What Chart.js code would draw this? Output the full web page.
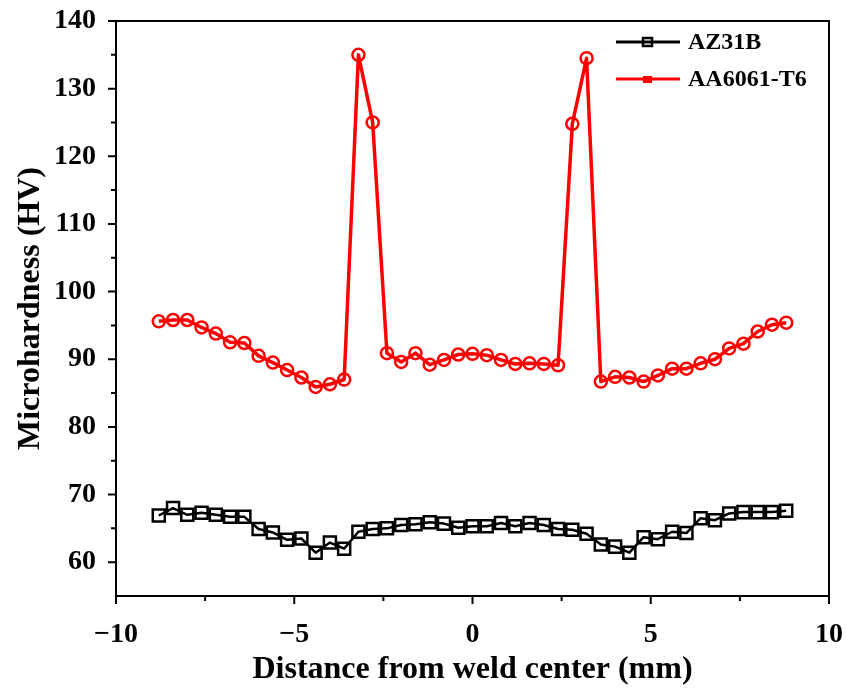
<!DOCTYPE html>
<html>
<head>
<meta charset="utf-8">
<script src="https://cdn.jsdelivr.net/npm/chart.js@4.4.1/dist/chart.umd.min.js"></script>
<style>
  body { margin: 0; background: #fff; }
  #wrap { width: 846px; height: 689px; position: relative; }
</style>
</head>
<body>
<div id="wrap"><canvas id="myChart"></canvas></div>
<script>

const distance = [-8.8, -8.4, -8.0, -7.6, -7.2, -6.8, -6.4, -6.0, -5.6, -5.2, -4.8, -4.4, -4.0, -3.6, -3.2, -2.8, -2.4, -2.0, -1.6, -1.2, -0.8, -0.4, 0.0,
  0.4, 0.8, 1.2, 1.6, 2.0, 2.4, 2.8, 3.2, 3.6, 4.0, 4.4, 4.8, 5.2, 5.6, 6.0, 6.4, 6.8, 7.2, 7.6, 8.0, 8.4, 8.8]

const az31b = [66.9, 68.0, 67.0, 67.3, 67.0, 66.7, 66.7, 64.9, 64.4, 63.3, 63.5, 61.4, 62.9, 62.0, 64.5, 64.9, 65.0, 65.5, 65.6, 65.9, 65.7, 65.1, 65.3,
  65.3, 65.8, 65.3, 65.8, 65.5, 64.9, 64.8, 64.2, 62.6, 62.3, 61.4, 63.7, 63.4, 64.5, 64.3, 66.5, 66.2, 67.2, 67.4, 67.4, 67.4, 67.6]

const aa6061 = [95.6, 95.8, 95.8, 94.7, 93.8, 92.5, 92.4, 90.5, 89.5, 88.4, 87.3, 85.9, 86.3, 87.0, 135.0, 125.0, 90.9, 89.6, 90.9, 89.2, 89.9, 90.7, 90.8,
  90.6, 89.9, 89.3, 89.4, 89.3, 89.1, 124.8, 134.5, 86.7, 87.4, 87.3, 86.7, 87.6, 88.6, 88.6, 89.4, 90.0, 91.6, 92.3, 94.1, 95.1, 95.4]

const seriesNames = ['AZ31B', 'AA6061-T6']

const xTicks = [-10, -5, 0, 5, 10]
const xMinorTicks = [-7.5, -2.5, 2.5, 7.5]
const yTicks = [60, 70, 80, 90, 100, 110, 120, 130, 140]
const yMinorTicks = [65, 75, 85, 95, 105, 115, 125, 135]

const serif = '"Liberation Serif", "Times New Roman", serif'

const toPoints = (values) => {
  let pts = []
  for (let i = 0; i < distance.length; i++) {
    pts.push({ x: distance[i], y: values[i] })
  }
  return pts
}

// no automatic room for overhanging labels, layout padding decides
const noPad = (scale) => {
  scale.paddingLeft = 0
  scale.paddingRight = 0
  scale.paddingTop = 0
  scale.paddingBottom = 0
}

// frame, outward ticks and the legend in the top right corner
const decorations = {
  id: 'decorations',
  afterDraw(chart) {
    const ctx = chart.ctx
    const area = chart.chartArea
    const xs = chart.scales.x
    const ys = chart.scales.y
    ctx.save()
    ctx.strokeStyle = '#000'
    ctx.lineWidth = 2
    ctx.strokeRect(area.left, area.top, area.right - area.left, area.bottom - area.top)

    ctx.beginPath()
    xTicks.forEach(v => {
      const px = xs.getPixelForValue(v)
      ctx.moveTo(px, area.bottom); ctx.lineTo(px, area.bottom + 8)
    })
    xMinorTicks.forEach(v => {
      const px = xs.getPixelForValue(v)
      ctx.moveTo(px, area.bottom); ctx.lineTo(px, area.bottom + 5)
    })
    yTicks.forEach(v => {
      const py = ys.getPixelForValue(v)
      ctx.moveTo(area.left, py); ctx.lineTo(area.left - 8, py)
    })
    yMinorTicks.forEach(v => {
      const py = ys.getPixelForValue(v)
      ctx.moveTo(area.left, py); ctx.lineTo(area.left - 5, py)
    })
    ctx.stroke()

    // legend
    const rows = [42, 79]
    chart.data.datasets.forEach((ds, i) => {
      const y = rows[i]
      ctx.strokeStyle = ds.borderColor
      ctx.lineWidth = 3
      ctx.beginPath()
      ctx.moveTo(616, y); ctx.lineTo(680, y)
      ctx.stroke()
      ctx.lineWidth = 2.5
      if (ds.pointStyle === 'rect') {
        ctx.strokeRect(643, y - 4, 9, 8)
      } else {
        ctx.fillStyle = ds.borderColor
        ctx.fillRect(643, y - 3, 9, 7)
      }
      ctx.fillStyle = '#000'
      ctx.font = 'bold 24px ' + serif
      ctx.textBaseline = 'middle'
      ctx.textAlign = 'left'
      ctx.fillText(ds.label, 688, y + 1)
    })
    ctx.restore()
  }
}

const datas = {
  datasets: [
    {
      label: seriesNames[0],
      data: toPoints(az31b),
      borderColor: '#000000',
      backgroundColor: 'rgba(0,0,0,0)',
      borderWidth: 2.5,
      borderJoinStyle: 'round',
      pointStyle: 'rect',
      pointRadius: 8.5,
      pointBorderWidth: 2.5,
      pointBackgroundColor: 'rgba(0,0,0,0)',
      tension: 0
    },
    {
      label: seriesNames[1],
      data: toPoints(aa6061),
      borderColor: '#ff0000',
      backgroundColor: 'rgba(0,0,0,0)',
      borderWidth: 3.5,
      borderJoinStyle: 'round',
      pointStyle: 'circle',
      pointRadius: 6,
      pointBorderWidth: 2.5,
      pointBackgroundColor: 'rgba(0,0,0,0)',
      tension: 0
    }
  ]
}

const config = {
  type: 'line',
  data: datas,
  options: {
    responsive: true,
    maintainAspectRatio: false,
    animation: false,
    devicePixelRatio: 1,
    layout: { padding: { top: 21, right: 17, left: 0, bottom: 0 } },
    plugins: {
      legend: { display: false },
      tooltip: { enabled: false }
    },
    scales: {
      x: {
        type: 'linear',
        min: -10,
        max: 10,
        afterBuildTicks: (scale) => { scale.ticks = xTicks.map(v => ({ value: v })) },
        afterFit: (scale) => { scale.height = 93; noPad(scale) },
        grid: { display: false, drawTicks: false },
        border: { display: false },
        ticks: {
          color: '#000',
          padding: 22,
          maxRotation: 0,
          font: { family: serif, size: 28, weight: 'bold' },
          callback: (v) => v < 0 ? '\u2212' + Math.abs(v) : String(v)
        },
        title: {
          display: true,
          text: 'Distance from weld center (mm)',
          color: '#000',
          font: { family: serif, size: 32, weight: 'bold' },
          padding: { top: 0, bottom: 0 }
        }
      },
      y: {
        min: 55,
        max: 140,
        afterBuildTicks: (scale) => { scale.ticks = yTicks.map(v => ({ value: v })) },
        afterFit: (scale) => { scale.width = 116; noPad(scale) },
        grid: { display: false, drawTicks: false },
        border: { display: false },
        ticks: {
          color: '#000',
          padding: 20,
          font: { family: serif, size: 28, weight: 'bold' }
        },
        title: {
          display: true,
          text: 'Microhardness (HV)',
          color: '#000',
          font: { family: serif, size: 32, weight: 'bold' },
          padding: { top: 12, bottom: 0 }
        }
      }
    }
  },
  plugins: [decorations]
}

const ctx = document.getElementById('myChart')

new Chart(ctx, config)

</script>
</body>
</html>
